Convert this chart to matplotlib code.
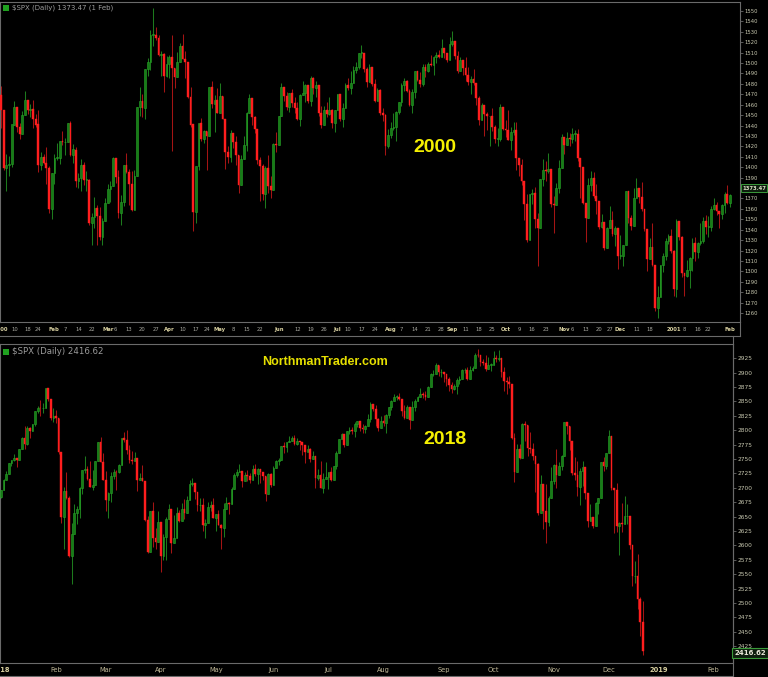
import numpy as np
import matplotlib
matplotlib.use("Agg")
import matplotlib.pyplot as plt
import matplotlib.transforms as mtransforms
from matplotlib.lines import Line2D
from matplotlib.patches import Rectangle

# ---------------- data: S&P 500 daily, Jan 2000 - Feb 2001 ----------------
top_first_open = 1469
top_close = [
    1455,1399,1402,1403,1441,1458,1439,1432,1450,1465,1455,1456,1446,1441,1402,1410,1404,1399,1360,1394,
    1409,1409,1425,1424,1424,1442,1412,1417,1387,1390,1402,1388,1388,1346,1352,1361,1353,1333,1348,1366,
    1379,1382,1409,1391,1356,1367,1402,1395,1384,1359,1392,1458,1464,1457,1494,1501,1527,1527,1524,1508,1509,1488,1499,
    1506,1495,1487,1501,1516,1504,1501,1467,1441,1357,1401,1442,1427,1435,1430,1477,1461,1465,1452,
    1468,1446,1415,1410,1433,1424,1412,1383,1408,1421,1452,1466,1448,1437,1407,1401,1374,1399,1382,1378,1422,1421,
    1449,1477,1468,1458,1471,1462,1457,1446,1469,1471,1479,1464,1486,1476,1479,1452,1441,1455,1451,1455,1442,1455,
    1470,1446,1457,1479,1476,1481,1493,1496,1510,1510,1494,1482,1496,1480,1464,1474,1452,1450,1420,1431,
    1438,1439,1453,1463,1479,1483,1473,1460,1472,1492,1484,1480,1496,1492,1499,1498,1506,1508,1506,1514,1510,1503,1518,
    1521,1507,1492,1503,1495,1489,1482,1485,1481,1466,1445,1460,1451,1449,1449,1439,1427,1427,1458,1437,
    1436,1426,1434,1436,1409,1402,1387,1365,1330,1374,1375,1350,1342,1389,1397,1396,1398,1365,1364,1380,1399,1429,
    1421,1428,1427,1432,1432,1409,1400,1366,1351,1383,1390,1372,1368,1343,1347,1322,1342,1349,1336,1342,1315,
    1315,1325,1377,1351,1344,1370,1380,1371,1360,1341,1312,1323,1306,1265,1275,1306,1315,1329,1334,1320,
    1283,1348,1333,1298,1296,1301,1313,1327,1319,1327,1329,1348,1343,1343,1360,1364,1358,1355,1364,1374,1366,
    1373]
top_high = [
    1478,1455,1413,1411,1441,1464,1458,1442,1454,1473,1465,1461,1465,1451,1455,1415,1413,1419,1401,1394,
    1413,1423,1425,1435,1428,1442,1444,1422,1419,1394,1408,1405,1396,1389,1356,1371,1364,1362,1351,1370,
    1384,1387,1410,1409,1397,1373,1402,1414,1398,1396,1397,1458,1477,1470,1494,1505,1532,1553,1535,1527,1512,1510,1507,
    1508,1527,1495,1511,1519,1528,1512,1501,1477,1441,1401,1442,1447,1436,1434,1477,1483,1469,1476,
    1481,1468,1446,1420,1436,1433,1430,1412,1412,1430,1453,1470,1466,1449,1437,1410,1403,1401,1412,1392,1423,1434,
    1449,1481,1477,1472,1471,1475,1467,1463,1470,1483,1480,1479,1488,1487,1483,1479,1459,1459,1463,1467,1456,1455,
    1470,1470,1462,1481,1486,1492,1497,1501,1510,1517,1510,1496,1499,1496,1485,1476,1475,1457,1451,1437,
    1443,1452,1454,1463,1481,1486,1484,1475,1475,1492,1492,1491,1499,1499,1501,1508,1507,1511,1513,1523,1514,1510,1525,
    1531,1521,1512,1506,1503,1506,1496,1488,1494,1481,1468,1462,1460,1453,1449,1457,1441,1438,1461,1458,
    1445,1455,1439,1443,1443,1409,1408,1387,1374,1374,1379,1381,1356,1389,1408,1406,1414,1398,1372,1385,1407,1432,
    1429,1434,1433,1438,1436,1437,1409,1400,1366,1390,1396,1395,1384,1368,1355,1347,1343,1363,1358,1344,1342,
    1335,1325,1377,1377,1354,1380,1390,1380,1386,1360,1341,1332,1346,1306,1286,1306,1318,1332,1336,1341,
    1321,1350,1348,1334,1298,1311,1314,1332,1333,1328,1346,1352,1354,1353,1363,1370,1367,1358,1365,1376,1383,
    1374]
top_low = [
    1438,1397,1377,1392,1400,1441,1434,1427,1432,1450,1451,1448,1438,1439,1395,1397,1403,1384,1356,1350,
    1384,1407,1403,1421,1412,1424,1411,1404,1381,1380,1377,1383,1377,1345,1325,1342,1325,1330,1325,1348,
    1366,1367,1382,1385,1351,1345,1363,1394,1364,1358,1359,1392,1449,1448,1446,1488,1493,1516,1522,1507,1488,1472,1487,
    1486,1416,1476,1487,1501,1504,1486,1466,1439,1339,1346,1397,1425,1423,1397,1430,1457,1434,1452,
    1452,1446,1398,1404,1405,1418,1402,1375,1383,1408,1416,1452,1441,1433,1403,1368,1369,1361,1375,1370,1378,1415,
    1421,1449,1464,1455,1453,1458,1452,1445,1440,1469,1463,1462,1459,1470,1467,1449,1438,1441,1448,1450,1438,1434,
    1455,1444,1439,1457,1474,1470,1481,1490,1494,1505,1491,1477,1482,1478,1463,1464,1450,1444,1412,1418,
    1428,1436,1425,1451,1459,1473,1472,1459,1452,1466,1483,1477,1478,1487,1491,1497,1489,1500,1505,1506,1505,1501,1503,
    1516,1504,1490,1492,1489,1483,1479,1470,1479,1460,1441,1445,1430,1436,1420,1435,1423,1420,1425,1436,
    1429,1426,1417,1431,1397,1392,1383,1349,1328,1330,1365,1342,1305,1342,1382,1387,1394,1362,1337,1364,1375,1399,
    1413,1421,1420,1423,1425,1406,1370,1365,1328,1351,1377,1370,1355,1341,1342,1321,1322,1345,1334,1324,1302,
    1312,1305,1325,1346,1340,1344,1370,1366,1358,1339,1300,1312,1305,1262,1255,1275,1299,1311,1326,1318,
    1276,1275,1330,1295,1276,1295,1284,1300,1310,1313,1325,1327,1336,1333,1339,1359,1354,1342,1350,1356,1365,
    1362]
top_last = "1373.47"
top_title = "$SPX (Daily) 1373.47 (1 Feb)"
top_yticks = list(range(1260, 1551, 10))
top_xtick_pos = [0,5,10,14,20,24,29,34,40,43,48,53,58,63,68,73,77,82,87,92,97,104,111,116,121,126,130,135,140,
                 146,150,155,160,165,169,174,179,184,189,194,199,204,211,214,219,224,228,232,238,243,252,256,261,265,273]
top_xtick_lab = ['2000','10','18','24','Feb','7','14','22','Mar','6','13','20','27','Apr','10','17','24','May','8','15','22',
                 'Jun','12','19','26','Jul','10','17','24','Aug','7','14','21','28','Sep','11','18','25','Oct','9','16','23',
                 'Nov','6','13','20','27','Dec','11','18','2001','8','16','22','Feb']

# ---------------- data: S&P 500 daily, Jan 2018 - Dec 21 2018 ----------------
bot_first_open = 2684
bot_close = [
    2696,2713,2724,2743,2748,2751,2748,2768,2786,2776,2803,2798,2810,2833,2839,2838,2839,2873,2854,2822,2824,
    2822,2762,2649,2695,2682,2581,2620,2656,2663,2699,2731,2732,2716,2701,2704,2747,2780,2744,2714,
    2678,2691,2721,2728,2727,2739,2787,2783,2765,2749,2747,2752,2713,2717,2712,2644,2588,2659,2613,2605,2641,
    2582,2614,2645,2663,2604,2613,2657,2642,2664,2656,2678,2706,2709,2693,2670,2670,2635,2639,2667,2670,2648,
    2655,2636,2630,2663,2673,2672,2698,2723,2728,2730,2711,2722,2720,2713,2733,2724,2733,2728,2721,2690,2724,2705,
    2735,2747,2749,2772,2770,2779,2782,2787,2776,2782,2780,2774,2763,2767,2750,2755,2717,2723,2700,2716,2718,
    2727,2713,2737,2760,2784,2794,2774,2798,2801,2798,2810,2816,2804,2802,2807,2820,2846,2837,2819,2803,2816,
    2813,2827,2840,2850,2858,2858,2854,2833,2822,2840,2818,2841,2850,2857,2863,2862,2857,2875,2897,2898,2914,2901,2902,
    2897,2889,2878,2872,2877,2888,2889,2904,2905,2889,2904,2908,2931,2930,2919,2916,2906,2914,2914,
    2925,2923,2926,2902,2886,2884,2880,2786,2728,2767,2751,2810,2809,2769,2768,2756,2741,2656,2706,2659,2641,2683,2712,
    2740,2723,2738,2755,2814,2807,2781,2726,2722,2702,2730,2736,2691,2642,2650,2633,2673,2682,2744,2738,2760,
    2790,2700,2696,2633,2638,2637,2651,2651,2600,2546,2546,2507,2467,2417]
bot_high = [
    2696,2715,2729,2743,2749,2759,2751,2768,2788,2807,2807,2805,2810,2833,2842,2852,2848,2873,2870,2837,2839,
    2836,2808,2763,2701,2727,2686,2639,2672,2668,2702,2731,2755,2738,2747,2731,2747,2780,2789,2761,
    2730,2692,2728,2732,2731,2741,2787,2797,2801,2775,2764,2762,2741,2725,2740,2703,2651,2659,2675,2630,2660,
    2638,2619,2649,2672,2657,2653,2666,2662,2673,2680,2686,2713,2717,2703,2693,2683,2683,2645,2676,2677,2683,
    2655,2661,2637,2674,2684,2676,2701,2726,2733,2742,2719,2727,2731,2725,2739,2742,2734,2731,2728,2710,2726,2725,
    2737,2749,2752,2772,2779,2779,2790,2790,2792,2786,2780,2775,2764,2775,2769,2764,2742,2732,2746,2725,2744,
    2727,2736,2737,2764,2784,2796,2785,2799,2805,2805,2814,2816,2812,2810,2809,2829,2849,2843,2843,2821,2825,
    2826,2828,2841,2853,2863,2862,2864,2841,2843,2843,2827,2850,2855,2859,2873,2867,2868,2876,2899,2904,2916,2912,2906,
    2900,2895,2893,2883,2880,2890,2895,2906,2908,2909,2912,2912,2935,2941,2923,2924,2931,2927,2917,
    2937,2931,2940,2921,2909,2893,2895,2874,2795,2776,2776,2813,2816,2806,2797,2778,2742,2743,2722,2672,2707,2685,2736,
    2741,2767,2744,2757,2815,2814,2797,2775,2754,2746,2735,2747,2734,2670,2671,2647,2675,2683,2744,2754,2760,
    2800,2786,2696,2708,2640,2674,2685,2671,2627,2601,2573,2585,2510,2504]
bot_low = [
    2683,2697,2719,2728,2737,2747,2736,2752,2770,2768,2775,2787,2798,2808,2830,2824,2830,2846,2851,2818,2814,
    2812,2759,2638,2593,2681,2580,2533,2622,2637,2648,2689,2725,2713,2701,2697,2713,2758,2744,2713,
    2659,2647,2676,2716,2697,2725,2753,2779,2758,2743,2742,2749,2694,2713,2711,2643,2586,2602,2597,2594,2609,
    2553,2575,2574,2649,2587,2610,2627,2640,2648,2645,2666,2692,2703,2681,2660,2660,2625,2613,2647,2660,2647,
    2625,2635,2594,2615,2670,2655,2675,2705,2718,2727,2702,2712,2711,2708,2725,2721,2707,2708,2714,2677,2702,2701,
    2719,2740,2740,2749,2760,2763,2780,2781,2775,2774,2765,2757,2743,2763,2745,2752,2699,2713,2699,2691,2716,
    2698,2712,2716,2733,2768,2786,2770,2783,2793,2794,2789,2805,2799,2796,2796,2811,2814,2834,2808,2799,2806,
    2808,2795,2822,2835,2855,2853,2852,2825,2819,2826,2802,2831,2833,2850,2859,2856,2852,2862,2885,2895,2898,2895,2893,
    2884,2877,2869,2865,2870,2863,2881,2896,2899,2887,2891,2903,2915,2927,2912,2913,2903,2909,2903,
    2917,2919,2921,2893,2869,2863,2874,2784,2710,2729,2750,2767,2781,2755,2760,2749,2692,2652,2675,2628,2604,2634,2706,
    2706,2700,2722,2731,2774,2794,2765,2722,2714,2685,2670,2703,2681,2632,2648,2631,2650,2655,2684,2729,2732,
    2774,2697,2621,2624,2583,2624,2649,2637,2593,2530,2534,2489,2442,2409]
bot_last = "2416.62"
bot_title = "$SPX (Daily) 2416.62"
bot_yticks = list(range(2425, 2926, 25))
bot_xtick_pos = [0,21,40,61,82,104,125,146,169,188,211,232,251,272]
bot_xtick_lab = ['2018','Feb','Mar','Apr','May','Jun','Jul','Aug','Sep','Oct','Nov','Dec','2019','Feb']

# ---------------- drawing ----------------
W, H = 768, 677
fig = plt.figure(figsize=(W / 100, H / 100), dpi=100, facecolor='black')

GREEN_BODY = '#177c17'
GREEN_EDGE = '#26a326'
GREEN_WICK = '#1d7a1d'
RED_BODY = '#ff1e1e'
RED_WICK = '#a41414'
GREY = '#6a6a6a'
TICK_TXT = '#c8c8b0'


def candles(ax, first_open, close, high, low, width=0.66):
    c = np.asarray(close, float)
    o = np.concatenate([[first_open], c[:-1]])
    h = np.maximum(np.asarray(high, float), np.maximum(o, c))
    l = np.minimum(np.asarray(low, float), np.minimum(o, c))
    x = np.arange(len(c))
    up = c >= o
    ax.vlines(x[up], l[up], h[up], color=GREEN_WICK, lw=0.75, zorder=2)
    ax.vlines(x[~up], l[~up], h[~up], color=RED_WICK, lw=0.75, zorder=2)
    bb = np.minimum(o, c)
    bh = np.maximum(np.abs(c - o), 0.6)
    ax.bar(x[up], bh[up], bottom=bb[up], width=width, color=GREEN_BODY,
           edgecolor=GREEN_EDGE, lw=0.4, zorder=3)
    ax.bar(x[~up], bh[~up], bottom=bb[~up], width=width, color=RED_BODY,
           edgecolor=RED_BODY, lw=0.3, zorder=3)


def style(ax, yticks, fs, hidden=()):
    ax.set_facecolor('black')
    ax.yaxis.tick_right()
    ax.set_yticks(yticks)
    ax.set_yticklabels(['' if v in hidden else str(v) for v in yticks])
    ax.tick_params(axis='y', colors=GREY, labelcolor=TICK_TXT, labelsize=fs,
                   length=2, width=0.6, pad=1.5, direction='out')
    ax.set_xticks([])
    for s in ax.spines.values():
        s.set_color(GREY)
        s.set_linewidth(0.8)
    for lab in ax.get_yticklabels():
        lab.set_family('DejaVu Sans')


# Top panel
ax1 = fig.add_axes([0.0, 1 - 322 / H, 740 / W, 320 / H])
candles(ax1, top_first_open, top_close, top_high, top_low)
ax1.set_xlim(-0.37, 276.8)
ax1.set_ylim(1251.4, 1558.6)
style(ax1, top_yticks, 3.8, hidden=(1380,))

tr1 = mtransforms.blended_transform_factory(ax1.transData, ax1.transAxes)
for p, t in zip(top_xtick_pos, top_xtick_lab):
    bold = not t.isdigit() or len(t) == 4
    ax1.text(p, -0.022, t, transform=tr1, ha='center', va='center',
             fontsize=3.8, fontweight='bold' if bold else 'normal',
             color='#d8d0a0' if bold else '#a8a8a0', clip_on=False)

# Bottom panel
ax2 = fig.add_axes([0.0, 1 - 663 / H, 733 / W, 319 / H])
candles(ax2, bot_first_open, bot_close, bot_high, bot_low)
ax2.set_xlim(-0.38, 279.4)
ax2.set_ylim(2395.6, 2949.8)
style(ax2, bot_yticks, 4.2)
ax2.spines['bottom'].set_linestyle((0, (1, 1)))

tr2 = mtransforms.blended_transform_factory(ax2.transData, ax2.transAxes)
for p, t in zip(bot_xtick_pos, bot_xtick_lab):
    bold = t.isdigit()
    ax2.text(p, -0.022, t, transform=tr2, ha='center', va='center',
             fontsize=4.8, fontweight='bold' if bold else 'normal',
             color='#d8d0a0' if bold else '#c0b898', clip_on=False)

# panel titles with small icons
fig.text(12 / W, 1 - 8 / H, top_title, fontsize=5, color='#9c9c9c',
         ha='left', va='center', family='DejaVu Sans')
fig.text(12 / W, 1 - 351 / H, bot_title, fontsize=6.2, color='#9c9c9c',
         ha='left', va='center', family='DejaVu Sans')
fig.add_artist(Rectangle((3 / W, 1 - 11 / H), 6 / W, 6 / H, transform=fig.transFigure,
                         facecolor='#1fa01f', edgecolor='none'))
fig.add_artist(Rectangle((3 / W, 1 - 355 / H), 6 / W, 6 / H, transform=fig.transFigure,
                         facecolor='#1fa01f', edgecolor='none'))

# last-price boxes
fig.text(754 / W, 1 - 188 / H, top_last, fontsize=3.8, fontweight='bold', color='#e0e0c8',
         ha='center', va='center', zorder=10,
         bbox=dict(boxstyle='square,pad=0.25', facecolor='#0e1e0e', edgecolor='#3a9a3a', lw=0.7))
fig.text(750 / W, 1 - 653 / H, bot_last, fontsize=5, fontweight='bold', color='#e8e8d8',
         ha='center', va='center', zorder=10,
         bbox=dict(boxstyle='square,pad=0.25', facecolor='#0e1e0e', edgecolor='#3a9a3a', lw=0.8))

# annotations
fig.text(435 / W, 1 - 147 / H, '2000', fontsize=14, fontweight='bold', color='#f5f000',
         ha='center', va='center', family='Liberation Sans')
fig.text(445 / W, 1 - 440 / H, '2018', fontsize=14, fontweight='bold', color='#f5f000',
         ha='center', va='center', family='Liberation Sans')
fig.text(325 / W, 1 - 362 / H, 'NorthmanTrader.com', fontsize=9, fontweight='bold', color='#e6e000',
         ha='center', va='center', family='Liberation Sans')

# frame lines between panels
def fline(x0, y0, x1, y1, **kw):
    fig.add_artist(Line2D([x0 / W, x1 / W], [1 - y0 / H, 1 - y1 / H], transform=fig.transFigure,
                          color=GREY, lw=0.8, **kw))

fline(0, 336, 740, 336)
fline(740, 322, 740, 336)
fline(733, 336, 733, 677)
fline(0, 676, 733, 676)

fig.savefig('out.png', dpi=100, facecolor='black')
